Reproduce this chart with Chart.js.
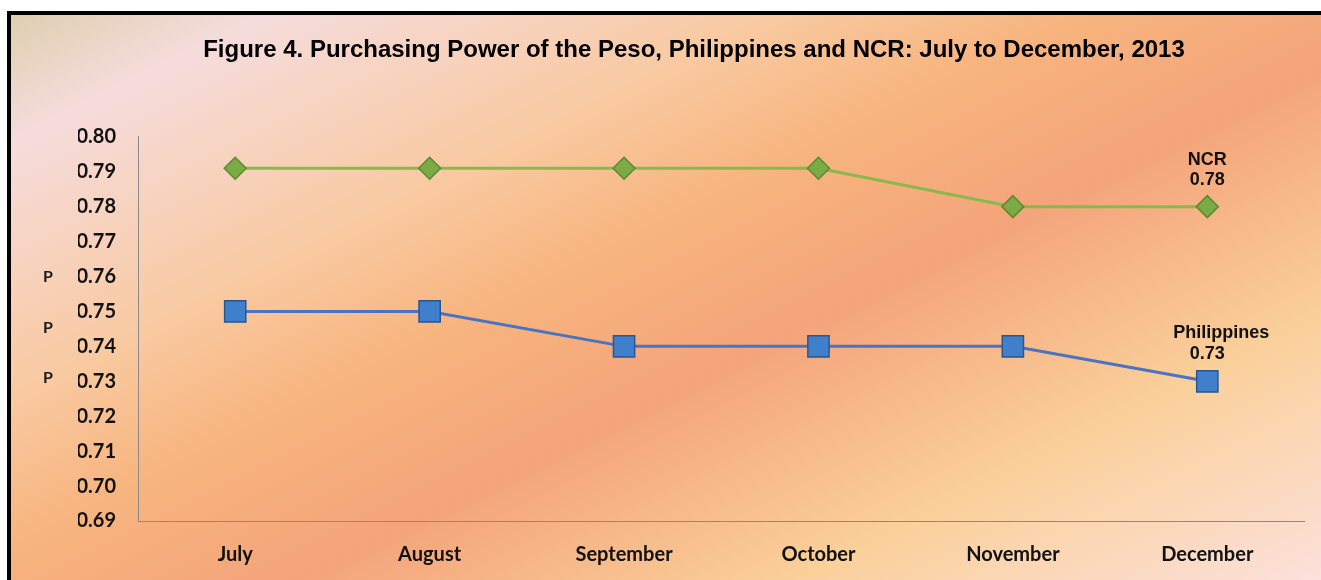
<!DOCTYPE html>
<html lang="en">
<head>
  <meta charset="UTF-8">
  <title>Purchasing Power of the Peso</title>
  <script src="https://cdn.jsdelivr.net/npm/chart.js"></script>
  <style>
    body {
      margin: 0;
      padding: 0;
      background: #fff;
    }

    #wrap {
      position: absolute;
      left: 0;
      top: 0;
      width: 1321px;
      height: 580px;
    }
  </style>
</head>
<body>
  <div id="wrap">
    <canvas id="lineChart" width="1321" height="580"></canvas>
  </div>

  <script>
    // data
    const months = ['July', 'August', 'September', 'October', 'November', 'December'];
    const philippines = [0.75, 0.75, 0.74, 0.74, 0.74, 0.73];
    const ncr = [0.791, 0.791, 0.791, 0.791, 0.78, 0.78];
    const yMin = 0.69;
    const yMax = 0.80;
    const yStep = 0.01;
    const titleText = 'Figure 4. Purchasing Power of the Peso, Philippines and NCR: July to December, 2013';

    // background gradient + black frame
    const backdrop = {
      id: 'backdrop',
      beforeDraw(chart) {
        const ctx = chart.ctx;
        const w = chart.width, h = chart.height;
        ctx.save();
        ctx.fillStyle = '#ffffff';
        ctx.fillRect(0, 0, w, h);
        ctx.fillStyle = '#000000';
        ctx.fillRect(7, 11, w - 7, h - 11);
        const g = ctx.createLinearGradient(0, 0, 494, 988);
        g.addColorStop(0, '#dccca9');
        g.addColorStop(0.12, '#f5dcdc');
        g.addColorStop(0.33, '#f9c9a0');
        g.addColorStop(0.45, '#f7b47e');
        g.addColorStop(0.59, '#f4a47a');
        g.addColorStop(0.79, '#fad09a');
        g.addColorStop(1, '#fce0da');
        ctx.fillStyle = g;
        ctx.fillRect(11, 15, w - 11, h - 15);
        ctx.restore();
      }
    };

    // end-of-line labels and the stray "P" marks left of the axis
    const endLabels = {
      id: 'endLabels',
      afterDatasetsDraw(chart) {
        const ctx = chart.ctx;
        ctx.save();
        ctx.fillStyle = '#111';
        ctx.textAlign = 'center';
        ctx.textBaseline = 'middle';
        ctx.font = 'bold 18px "Liberation Sans", Arial, sans-serif';

        const last = months.length - 1;
        const pN = chart.getDatasetMeta(1).data[last];
        ctx.fillText('NCR', pN.x, pN.y - 47);
        ctx.fillText(ncr[last].toFixed(2), pN.x, pN.y - 27);

        const pP = chart.getDatasetMeta(0).data[last];
        ctx.fillText('Philippines', pP.x + 14, pP.y - 48);
        ctx.fillText(philippines[last].toFixed(2), pP.x, pP.y - 27);

        ctx.font = 'bold 16px Lato, sans-serif';
        ctx.fillStyle = '#1a1a1a';
        [277, 328, 378].forEach(y => ctx.fillText('P', 48, y));
        ctx.restore();
      }
    };

    const ctx = document.getElementById('lineChart').getContext('2d');

    new Chart(ctx, {
      type: 'line',
      data: {
        labels: months,
        datasets: [{
          label: 'Philippines',
          data: philippines,
          borderColor: '#4a74c2',
          borderWidth: 3,
          pointStyle: 'rect',
          pointRadius: 15,
          pointBackgroundColor: '#3f7fcc',
          pointBorderColor: '#28568f',
          pointBorderWidth: 1.5,
          tension: 0
        }, {
          label: 'NCR',
          data: ncr,
          borderColor: '#8ab84c',
          borderWidth: 3,
          pointStyle: 'rectRot',
          pointRadius: 11,
          pointBackgroundColor: '#7bab45',
          pointBorderColor: '#5b8a31',
          pointBorderWidth: 1.5,
          tension: 0
        }]
      },
      options: {
        responsive: false,
        animation: false,
        events: [],
        layout: {
          padding: { left: 78, right: 11, top: 0, bottom: 0 }
        },
        plugins: {
          legend: { display: false },
          tooltip: { enabled: false },
          title: {
            display: true,
            text: titleText,
            color: '#000',
            font: { family: '"Liberation Sans", Arial, sans-serif', size: 24, weight: 'bold' },
            padding: { top: 36, bottom: 72 }
          }
        },
        scales: {
          x: {
            offset: true,
            grid: { color: 'transparent', drawTicks: false },
            border: { display: true, color: '#8a8a8a', width: 1 },
            ticks: {
              color: '#111',
              padding: 22,
              font: { family: 'Lato, sans-serif', size: 20, weight: 'bold' }
            },
            afterFit(scale) { scale.height = 59; }
          },
          y: {
            min: yMin,
            max: yMax,
            grid: { color: 'transparent', drawTicks: false },
            border: { display: true, color: '#8a8a8a', width: 1 },
            ticks: {
              stepSize: yStep,
              color: '#111',
              padding: 22,
              font: { family: 'Lato, sans-serif', size: 20, weight: 'bold' },
              callback: v => Number(v).toFixed(2)
            },
            afterFit(scale) { scale.width = 60; }
          }
        }
      },
      plugins: [backdrop, endLabels]
    });
  </script>
</body>
</html>
